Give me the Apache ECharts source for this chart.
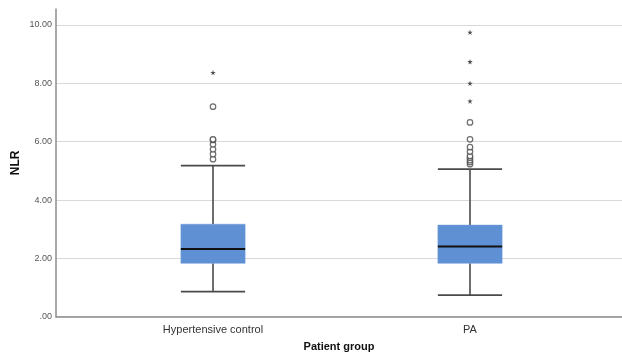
<!DOCTYPE html>
<html><head><meta charset="utf-8">
<script src="https://cdn.jsdelivr.net/npm/echarts@6/dist/echarts.min.js"></script>
<style>html,body{margin:0;padding:0;background:#fff}#c{width:622px;height:362px}</style>
</head><body><div id="c"></div>
<script>
var categories = ['Hypertensive control', 'PA'];
var whiskerLow = [0.86, 0.74];
var q1 = [1.83, 1.83];
var median = [2.32, 2.41];
var q3 = [3.17, 3.14];
var whiskerHigh = [5.18, 5.06];
var hcOutliers = [5.40, 5.57, 5.74, 5.91, 6.06, 6.08, 7.20];
var hcExtremes = [8.37];
var paOutliers = [5.23, 5.30, 5.37, 5.45, 5.51, 5.66, 5.81, 6.08, 6.66];
var paExtremes = [7.39, 8.00, 8.74, 9.75];
var yTicks = [0, 2, 4, 6, 8, 10];

var font = 'Liberation Sans, Arial, sans-serif';
var chart = echarts.init(document.getElementById('c'), null, {renderer: 'canvas'});

var boxData = categories.map(function (c, i) {
  return [i, whiskerLow[i], q1[i], median[i], q3[i], whiskerHigh[i]];
});
function pts(idx, arr) { return arr.map(function (v) { return [idx, v]; }); }
var outlierData = pts(0, hcOutliers).concat(pts(1, paOutliers));
var extremeData = pts(0, hcExtremes).concat(pts(1, paExtremes));
var starPath = 'path://M50,0 L61,35 L98,35 L68,57 L79,91 L50,70 L21,91 L32,57 L2,35 L39,35 Z';

var bottom = 45.3;
chart.setOption({
  animation: false,
  grid: [
    {left: 56, right: 0, top: 9, bottom: bottom},
    {left: 56, right: 0, top: 25, bottom: bottom},
    {left: 84.5, width: 514, top: 25, bottom: bottom}
  ],
  xAxis: [
    {gridIndex: 0, type: 'category', data: ['a'], axisLine: {lineStyle: {color: '#8c8c8c', width: 1.5}},
     axisTick: {show: false}, axisLabel: {show: false},
     name: 'Patient group', nameLocation: 'middle', nameGap: 25,
     nameTextStyle: {fontFamily: font, fontWeight: 'bold', fontSize: 11, color: '#111'}},
    {gridIndex: 1, type: 'value', show: false},
    {gridIndex: 2, type: 'category', data: categories, axisLine: {show: false}, axisTick: {show: false},
     axisLabel: {fontFamily: font, fontSize: 11, color: '#333', margin: 8}}
  ],
  yAxis: [
    {gridIndex: 0, type: 'value', min: 0, max: 10.55, axisLine: {show: true, lineStyle: {color: '#8c8c8c', width: 1.5}},
     axisTick: {show: false}, axisLabel: {show: false}, splitLine: {show: false},
     name: 'NLR', nameLocation: 'middle', nameGap: 34, nameRotate: 90,
     nameTextStyle: {fontFamily: font, fontWeight: 'bold', fontSize: 12, color: '#111'}},
    {gridIndex: 1, type: 'value', min: 0, max: 10, interval: 2, axisLine: {show: false}, axisTick: {show: false},
     axisLabel: {fontFamily: font, fontSize: 9, color: '#555', margin: 4,
       formatter: function (v) { return v === 0 ? '.00' : v.toFixed(2); }},
     splitLine: {lineStyle: {color: '#d9d9d9', width: 1}}},
    {gridIndex: 2, type: 'value', min: 0, max: 10, show: false}
  ],
  series: [
    {
      type: 'custom', xAxisIndex: 2, yAxisIndex: 2, data: boxData,
      renderItem: function (params, api) {
        var x = api.value(0);
        var band = api.size([1, 0])[0];
        var bw = band * 0.25, cw = band * 0.125;
        var pLow = api.coord([x, api.value(1)]);
        var pQ1 = api.coord([x, api.value(2)]);
        var pMed = api.coord([x, api.value(3)]);
        var pQ3 = api.coord([x, api.value(4)]);
        var pHigh = api.coord([x, api.value(5)]);
        var cx = pMed[0];
        var ws = {stroke: '#4a4a4a', lineWidth: 1.6};
        return {type: 'group', children: [
          {type: 'line', shape: {x1: cx, y1: pLow[1], x2: cx, y2: pQ1[1]}, style: ws},
          {type: 'line', shape: {x1: cx, y1: pQ3[1], x2: cx, y2: pHigh[1]}, style: ws},
          {type: 'line', shape: {x1: cx - cw, y1: pLow[1], x2: cx + cw, y2: pLow[1]}, style: ws},
          {type: 'line', shape: {x1: cx - cw, y1: pHigh[1], x2: cx + cw, y2: pHigh[1]}, style: ws},
          {type: 'rect', shape: {x: cx - bw / 2, y: pQ3[1], width: bw, height: pQ1[1] - pQ3[1]},
           style: {fill: '#5f90d4', stroke: '#6a9ad6', lineWidth: 0.5}},
          {type: 'line', shape: {x1: cx - bw / 2, y1: pMed[1], x2: cx + bw / 2, y2: pMed[1]},
           style: {stroke: '#111', lineWidth: 2}}
        ]};
      }
    },
    {
      type: 'scatter', xAxisIndex: 2, yAxisIndex: 2, data: outlierData,
      symbol: 'circle', symbolSize: 5.5,
      itemStyle: {color: '#fff', borderColor: '#4a4a4a', borderWidth: 1.2}
    },
    {
      type: 'scatter', xAxisIndex: 2, yAxisIndex: 2, data: extremeData,
      symbol: starPath, symbolSize: 5.5,
      itemStyle: {color: '#222'}
    }
  ]
});
</script></body></html>
